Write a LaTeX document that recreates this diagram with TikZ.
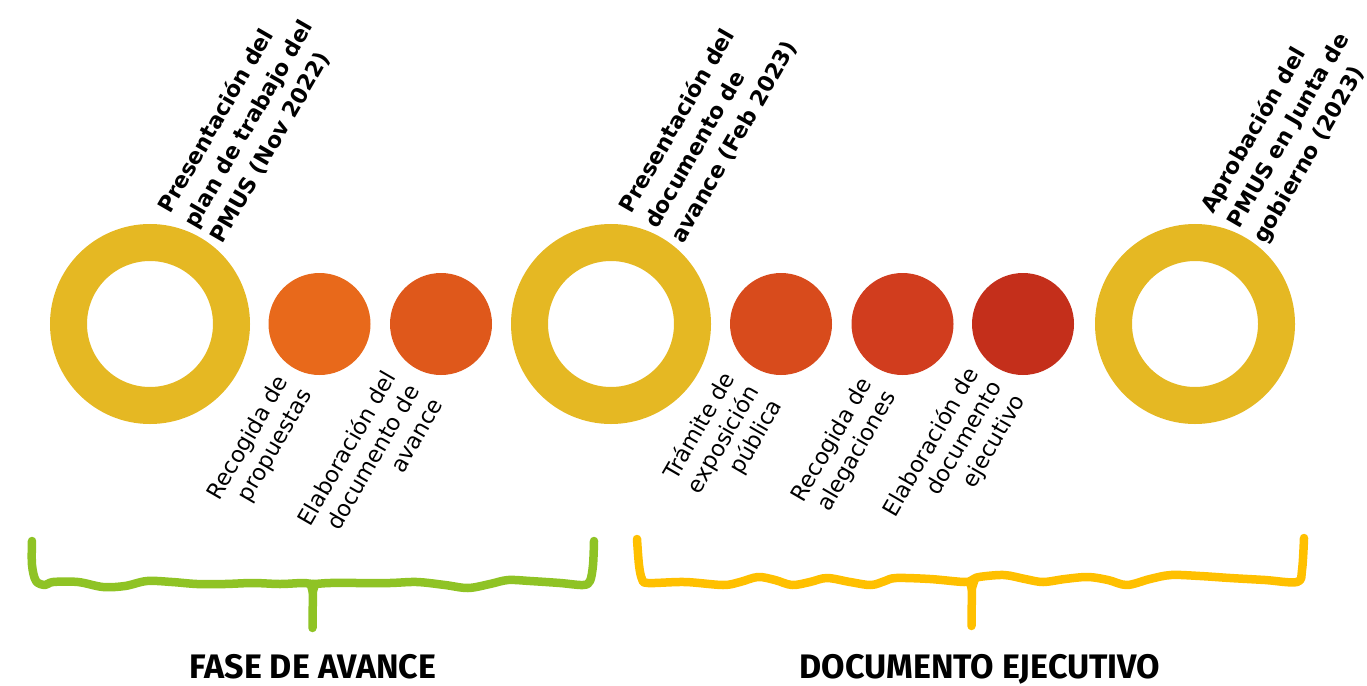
\documentclass[tikz,border=0pt]{standalone}
\usepackage{fontspec}
\setmainfont{DejaVu Sans}
\newfontfamily\titlefont{Fira Sans}
\definecolor{ringgold}{HTML}{E5B823}
\definecolor{dotA}{HTML}{E8691B}
\definecolor{dotB}{HTML}{DF581B}
\definecolor{dotC}{HTML}{D84B1C}
\definecolor{dotD}{HTML}{D13D1E}
\definecolor{dotE}{HTML}{C42F1B}
\definecolor{bracegreen}{HTML}{8FC325}
\definecolor{braceyellow}{HTML}{FFC000}
\begin{document}
\begin{tikzpicture}[x=1pt,y=-1pt,
  ring/.style={circle, draw=ringgold, line width=37pt, minimum size=163pt, inner sep=0pt},
  dot/.style={circle, minimum size=102pt, inner sep=0pt},
  topline/.style={rotate=60, inner sep=0pt, anchor=base west,
    font=\bfseries\fontsize{22}{30}\selectfont},
  botline/.style={rotate=60, inner sep=0pt, anchor=base east,
    font=\fontsize{22.5}{27}\selectfont},
  phase/.style={inner sep=0pt, anchor=base, font=\titlefont\bfseries\fontsize{34}{40}\selectfont},
  bracestroke/.style={line width=8.5pt, line cap=round, line join=round}]
\useasboundingbox (0,0) rectangle (1367,685);
% milestones
\node[ring] (r1) at (150,324) {};
\node[ring] (r2) at (611,324) {};
\node[ring] (r3) at (1195,324) {};
% steps
\node[dot, fill=dotA] (d1) at (319.5,324) {};
\node[dot, fill=dotB] (d2) at (441,324) {};
\node[dot, fill=dotC] (d3) at (781,324) {};
\node[dot, fill=dotD] (d4) at (902.5,324) {};
\node[dot, fill=dotE] (d5) at (1023,324) {};
% top labels (one node per line)
\node[topline] (t1a) at (170,215) {Presentación del};
\node[topline] (t1b) at (196,230) {plan de trabajo del};
\node[topline] (t1c) at (222,245) {PMUS (Nov 2022)};
\node[topline] (t2a) at (631,215) {Presentación del};
\node[topline] (t2b) at (657,230) {documento de};
\node[topline] (t2c) at (683,245) {avance (Feb 2023)};
\node[topline] (t3a) at (1213,215) {Aprobación del};
\node[topline] (t3b) at (1239,230) {PMUS en Junta de};
\node[topline] (t3c) at (1265,245) {gobierno (2023)};
% bottom labels (right aligned, one node per line)
\node[botline] (b1a) at (289,381) {Recogida de};
\node[botline] (b1b) at (312.4,394.5) {propuestas};
\node[botline] (b2a) at (397,377) {Elaboración del};
\node[botline] (b2b) at (420.4,390.5) {documento de};
\node[botline] (b2c) at (443.8,404) {avance};
\node[botline] (b3a) at (736,378) {Trámite de};
\node[botline] (b3b) at (759.4,391.5) {exposición};
\node[botline] (b3c) at (782.8,405) {pública};
\node[botline] (b4a) at (873,383) {Recogida de};
\node[botline] (b4b) at (896.4,396.5) {alegaciones};
\node[botline] (b5a) at (979,373) {Elaboración de};
\node[botline] (b5b) at (1002.4,386.5) {documento};
\node[botline] (b5c) at (1025.8,400) {ejecutivo};
% braces
\draw[bracestroke, draw=bracegreen] plot[smooth, tension=0.55] coordinates {
  (32,541) (32,565) (36,581) (45,585) (53,582) (78,582) (103,587) (125,586)
  (147,581) (172,582) (197,584) (225,584) (253,583) (280,584) (303,583) (313,584)
  (330,583) (360,583) (390,583) (417,582) (445,585) (468,588) (490,584)
  (508,580) (530,581) (560,583) (583,585) (590,581) (593,565) (594,541)};
\coordinate (g0) at (313,584);
\coordinate (g1) at (312.5,628);
\draw[bracestroke, draw=bracegreen] (g0) -- (g1);
\fill[bracegreen] (306,583) -- (320,583) -- (315,598) -- (310,598) -- cycle;
\draw[bracestroke, draw=braceyellow] plot[smooth, tension=0.55] coordinates {
  (637,539) (639,565) (642,579) (648,583) (685,582) (723,585) (740,582)
  (758,577) (775,580) (792,585) (810,582) (827,578) (850,582) (871,585)
  (885,581) (896,578) (930,579) (964,582) (972,580) (979,577) (1004,575)
  (1025,579) (1043,582) (1065,579) (1088,577) (1108,580) (1127,585)
  (1150,579) (1171,575) (1200,576) (1230,578) (1265,580) (1297,582)
  (1302,570) (1304,538)};
\coordinate (y0) at (972,581);
\coordinate (y1) at (971.5,626);
\draw[bracestroke, draw=braceyellow] (y0) -- (y1);
\fill[braceyellow] (965,580) -- (979,580) -- (974,595) -- (969,595) -- cycle;
% phase titles
\node[phase] (p1) at (313,678) {FASE DE AVANCE};
\node[phase] (p2) at (980,678) {DOCUMENTO EJECUTIVO};
\end{tikzpicture}
\end{document}
